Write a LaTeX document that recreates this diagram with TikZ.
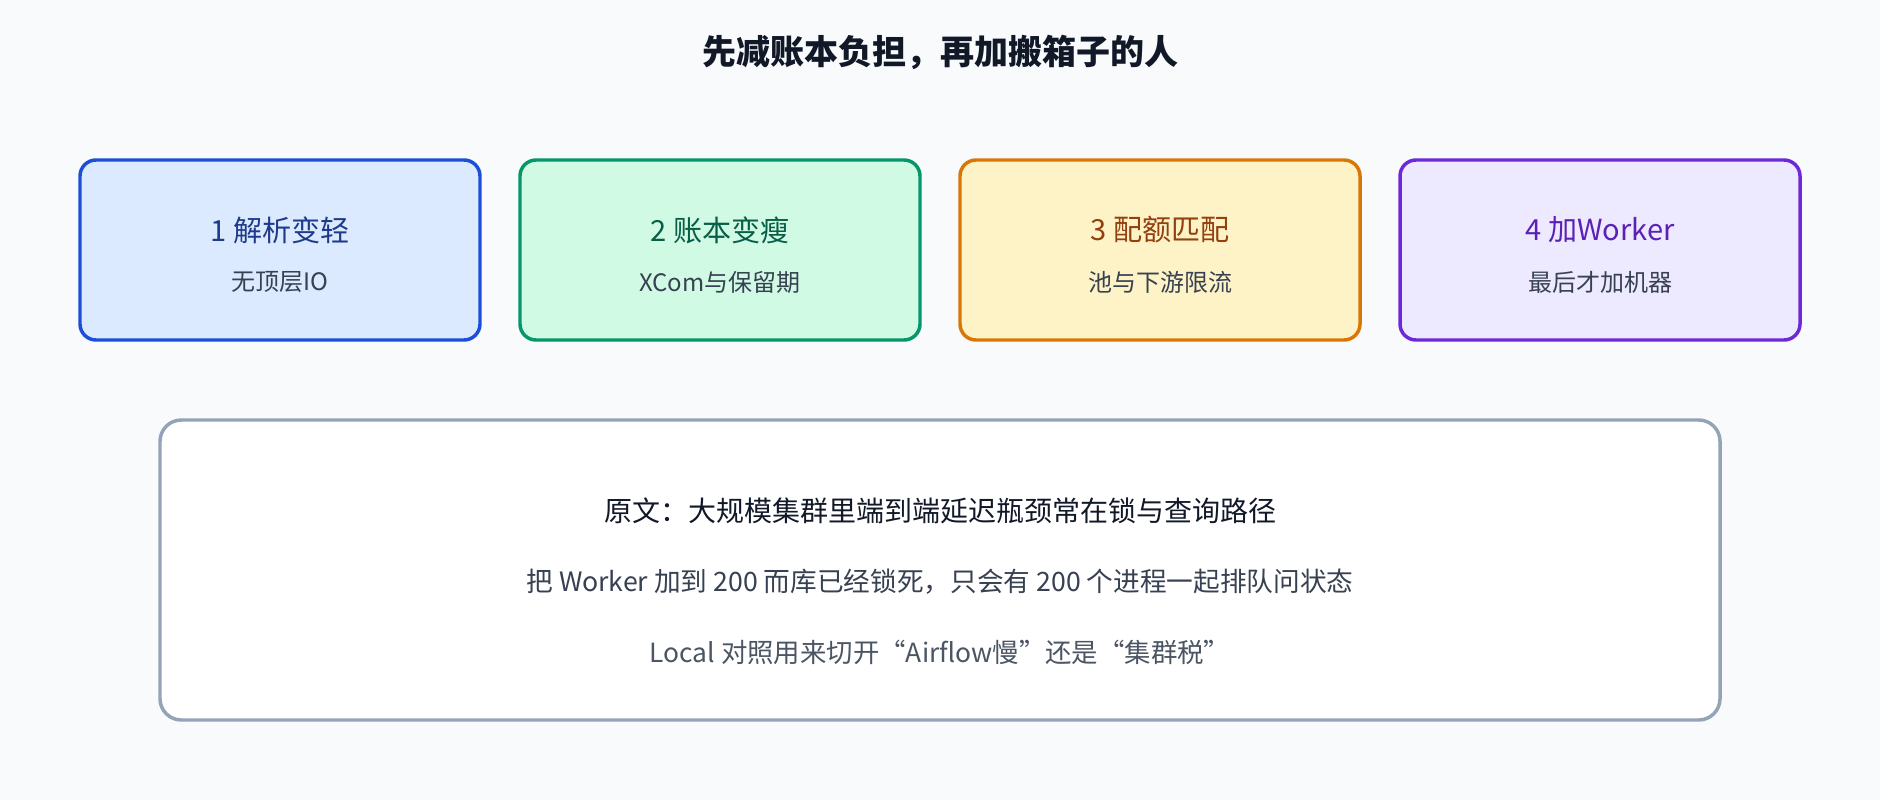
\documentclass[tikz,border=0pt]{standalone}
\usepackage{fontspec}
\setmainfont{Noto Sans CJK SC}
\usepackage{tikz}
\usetikzlibrary{positioning}

\definecolor{bgcol}{HTML}{F8FAFC}
\definecolor{inkcol}{HTML}{111827}
\definecolor{subcol}{HTML}{374151}
\definecolor{faintcol}{HTML}{4B5563}
\definecolor{bluefill}{HTML}{DBEAFE}
\definecolor{blueline}{HTML}{1D4ED8}
\definecolor{bluetext}{HTML}{1E3A8A}
\definecolor{greenfill}{HTML}{D1FAE5}
\definecolor{greenline}{HTML}{059669}
\definecolor{greentext}{HTML}{065F46}
\definecolor{amberfill}{HTML}{FEF3C7}
\definecolor{amberline}{HTML}{D97706}
\definecolor{ambertext}{HTML}{92400E}
\definecolor{violetfill}{HTML}{EDE9FE}
\definecolor{violetline}{HTML}{6D28D9}
\definecolor{violettext}{HTML}{5B21B6}
\definecolor{noteline}{HTML}{94A3B8}

\tikzstyle{stage} = [draw,line width=2.6pt,rounded corners=12pt,minimum width=300pt,minimum height=135pt,outer sep=0pt]
\tikzstyle{stagehead} = [font=\fontsize{21.8}{26}\selectfont]
\tikzstyle{stagesub} = [font=\fontsize{18}{22}\selectfont,text=subcol]
\tikzstyle{note} = [draw=noteline,fill=white,line width=2.6pt,rounded corners=16pt,minimum width=1170pt,minimum height=225pt,outer sep=0pt]

\begin{document}
\begin{tikzpicture}[x=0.75pt,y=-0.75pt]
				\useasboundingbox (0,0) rectangle (1880,800);
				\fill[bgcol] (0,0) rectangle (1880,800);
				
				%Title
				\node[text=inkcol,font=\fontsize{25.5}{30}\selectfont\bfseries] (title) at (940,52) {先减账本负担，再加搬箱子的人};
				
				%Stages
				\node[stage,draw=blueline,fill=bluefill] (parse) at (280,250) {};
				\node[stage,draw=greenline,fill=greenfill,right=30pt of parse] (ledger) {};
				\node[stage,draw=amberline,fill=amberfill,right=30pt of ledger] (quota) {};
				\node[stage,draw=violetline,fill=violetfill,right=30pt of quota] (worker) {};
				
				\node[stagehead,text=bluetext] (hparse) at ([yshift=15pt]parse.center) {1 解析变轻};
				\node[stagesub] (sparse) at ([yshift=-24pt]parse.center) {无顶层IO};
				\node[stagehead,text=greentext] (hledger) at ([yshift=15pt]ledger.center) {2 账本变瘦};
				\node[stagesub] (sledger) at ([yshift=-24pt]ledger.center) {XCom与保留期};
				\node[stagehead,text=ambertext] (hquota) at ([yshift=15pt]quota.center) {3 配额匹配};
				\node[stagesub] (squota) at ([yshift=-24pt]quota.center) {池与下游限流};
				\node[stagehead,text=violettext] (hworker) at ([yshift=15pt]worker.center) {4 加Worker};
				\node[stagesub] (sworker) at ([yshift=-24pt]worker.center) {最后才加机器};
				
				%Note
				\node[note] (note) at (940,570) {};
				\node[text=inkcol,font=\fontsize{21}{25}\selectfont] (source) at ([yshift=44pt]note.center) {原文：大规模集群里端到端延迟瓶颈常在锁与查询路径};
				\node[text=subcol,font=\fontsize{20}{24}\selectfont] (scale) at ([yshift=-9pt]note.center) {把 Worker 加到 200 而库已经锁死，只会有 200 个进程一起排队问状态};
				\node[text=faintcol,font=\fontsize{19.8}{24}\selectfont] (local) at ([yshift=-61.5pt]note.center) {Local 对照用来切开“Airflow慢”还是“集群税”};
				
			\end{tikzpicture}
\end{document}
